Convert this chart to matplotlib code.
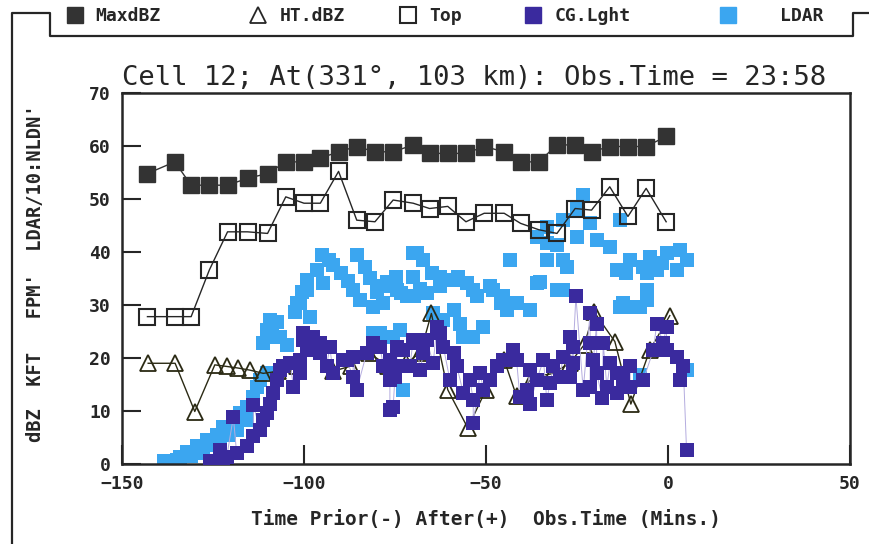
import matplotlib.pyplot as plt
from matplotlib.lines import Line2D

# radar scan times (min relative to obs. time) shared by MaxdBZ and Top
scan_time = [-143, -135.5, -131, -126, -121, -115.5, -110, -105, -100, -95.5,
             -90.5, -85.5, -80.5, -75.5, -70, -65.5, -60.5, -55.5, -50.5, -45,
             -40.5, -35.5, -30.5, -25.5, -21, -16, -11, -6, -0.5]
max_dbz = [54.8, 57.0, 52.6, 52.6, 52.6, 53.9, 54.8, 57.0, 57.0, 57.7,
           58.9, 59.9, 58.9, 58.9, 60.2, 58.6, 58.6, 58.6, 59.9, 58.9,
           57.0, 57.0, 60.2, 60.2, 58.9, 59.9, 59.9, 59.9, 61.8]
top_kft = [27.8, 27.8, 27.8, 36.6, 43.8, 43.8, 43.5, 50.4, 49.2, 49.2,
           55.2, 46.0, 45.7, 49.8, 49.2, 48.2, 48.6, 45.7, 47.3, 47.3,
           45.4, 44.2, 43.5, 48.2, 47.9, 52.3, 46.7, 52.0, 45.7]

# height of max dBZ
ht_time = [-142.8, -135.4, -130, -124.5, -121.2, -118.1, -114.8, -111.2, -107, -102,
           -97, -92, -87, -82, -77, -72, -68, -65, -60.5, -55,
           -50, -45, -41.6, -37, -32, -27, -23, -20.3, -14.6, -10.2,
           -5, 0.5]
ht_dbz = [19.0, 19.0, 9.9, 18.7, 18.4, 18.1, 17.7, 17.1, 17.5, 18.5,
          22.5, 17.5, 18.5, 20.9, 18.5, 19.0, 21.0, 28.4, 14.0, 6.8,
          14.0, 19.6, 12.8, 16.5, 17.0, 19.0, 22.5, 28.7, 23.1, 11.3,
          21.5, 28.0]

# cloud-to-ground lightning
cg_time = [-125.8, -124.0, -123.0, -122.2, -121.2, -119.4, -118.5, -115.7, -113.9, -113.9,
           -112.1, -111.2, -110.2, -109.3, -108.4, -107.5, -106.6, -105.7, -103.8, -102.9,
           -101.1, -101.1, -100.2, -100.2, -99.3, -97.4, -95.6, -95.6, -93.8, -92.9,
           -92.0, -89.2, -88.3, -86.5, -86.5, -85.5, -82.8, -81.0, -79.1, -78.2,
           -76.4, -76.4, -76.4, -75.5, -75.0, -74.5, -74.5, -72.7, -70.9, -70.0,
           -69.0, -68.1, -67.2, -66.3, -64.5, -63.5, -62.6, -61.7, -59.9, -58.9,
           -58.0, -56.2, -54.4, -53.5, -53.5, -51.6, -50.7, -48.9, -47.1, -45.2,
           -42.5, -41.6, -40.7, -38.8, -37.9, -37.9, -36.1, -34.2, -33.3, -32.4,
           -31.5, -29.7, -28.8, -26.9, -26.9, -26.0, -26.0, -25.3, -23.3, -21.4,
           -21.4, -21.4, -20.5, -19.6, -19.6, -18.0, -17.8, -16.8, -15.9, -14.1,
           -14.1, -12.3, -10.4, -10.4, -6.8, -4.0, -3.1, -1.3, -0.4, -0.4,
           2.4, 3.3, 4.2, 5.1]
cg_value = [0.5, 0.4, 2.6, 0.3, 1.4, 8.9, 2.0, 3.3, 5.2, 11.1,
            6.4, 8.3, 9.6, 11.4, 13.3, 15.8, 17.7, 18.4, 19.0, 14.6,
            17.1, 19.6, 23.4, 24.7, 21.5, 24.0, 20.9, 22.8, 18.4, 22.1,
            17.1, 19.6, 19.6, 16.5, 20.2, 14.0, 20.9, 22.8, 22.1, 18.4,
            19.6, 15.8, 10.2, 10.8, 16.5, 18.4, 22.1, 21.5, 18.4, 23.4,
            22.8, 17.7, 20.9, 23.4, 19.0, 25.9, 24.7, 22.1, 15.8, 20.9,
            18.4, 13.3, 15.8, 12.1, 7.7, 17.1, 14.0, 15.8, 18.4, 19.6,
            21.5, 19.6, 12.7, 14.0, 17.7, 11.4, 15.8, 19.6, 12.1, 15.2,
            18.4, 16.5, 20.2, 16.5, 24.0, 19.0, 22.1, 31.6, 14.0, 28.4,
            22.8, 14.6, 19.6, 26.5, 17.1, 12.4, 22.8, 14.6, 19.0, 17.1,
            13.3, 15.8, 18.4, 14.6, 15.8, 21.5, 26.5, 22.8, 25.9, 21.5,
            20.2, 15.8, 18.4, 2.6]

# LDAR sources / 10
ldar_time = [-138.5, -136.8, -135.0, -134.1, -132.2, -131.0, -129.5, -127.7, -126.7, -125.0,
             -124.0, -123.1, -122.2, -120.5, -119.4, -118.5, -117.6, -115.7, -115.7, -113.9,
             -113.0, -112.1, -111.2, -110.2, -110.2, -109.3, -108.9, -107.5, -107.5, -106.6,
             -104.8, -102.5, -102.0, -101.1, -100.6, -99.3, -99.3, -98.4, -96.5, -95.1,
             -94.7, -93.0, -91.9, -89.7, -88.0, -86.5, -85.5, -84.6, -83.2, -81.9,
             -81.0, -81.0, -80.0, -79.1, -78.2, -78.2, -77.3, -75.5, -74.6, -74.5,
             -73.6, -73.4, -72.7, -71.8, -70.0, -70.0, -69.9, -69.0, -68.0, -67.2,
             -66.3, -64.9, -64.5, -62.6, -62.5, -61.7, -58.9, -58.9, -57.8, -57.1,
             -56.2, -55.3, -53.5, -53.5, -52.6, -50.7, -48.9, -48.0, -45.8, -45.2,
             -44.3, -43.4, -41.6, -37.9, -36.1, -36.1, -35.2, -33.3, -33.3, -33.3,
             -30.6, -30.6, -28.8, -28.8, -28.8, -27.8, -25.1, -25.1, -23.3, -21.4,
             -19.6, -15.9, -14.1, -13.2, -13.2, -12.3, -11.4, -10.4, -10.4, -7.7,
             -7.7, -6.8, -5.9, -5.9, -5.9, -4.9, -3.1, -1.6, -0.4, 2.4,
             3.3, 5.1, 5.1]
ldar_value = [0.5, 0.4, 0.8, 1.4, 2.3, 1.5, 3.3, 2.0, 4.5, 3.5,
              5.5, 3.9, 7.0, 5.5, 8.3, 6.4, 9.6, 10.8, 8.3, 12.7,
              14.6, 15.8, 22.8, 17.1, 25.3, 27.2, 24.7, 26.8, 24.0, 24.0,
              22.5, 28.7, 30.3, 30.3, 32.5, 32.8, 34.7, 27.8, 36.6, 39.4,
              34.1, 38.5, 37.5, 36.0, 34.5, 32.8, 39.4, 30.9, 37.2, 35.0,
              24.7, 29.7, 32.5, 24.7, 30.3, 33.5, 34.4, 24.0, 35.3, 32.8,
              25.3, 32.2, 14.0, 31.6, 39.8, 35.3, 31.6, 39.8, 33.0, 38.5,
              32.2, 36.0, 28.4, 33.5, 35.3, 27.2, 34.7, 29.1, 35.3, 26.5,
              24.0, 34.1, 32.8, 24.0, 31.6, 25.9, 33.5, 32.8, 30.3, 31.6,
              29.1, 38.5, 30.3, 29.1, 34.1, 42.9, 34.4, 38.5, 41.6, 44.8,
              41.3, 32.8, 46.0, 38.5, 32.8, 37.2, 48.2, 42.9, 50.8, 45.4,
              42.3, 41.0, 36.6, 46.0, 29.7, 30.3, 36.0, 38.5, 29.7, 29.7,
              16.8, 37.2, 36.0, 30.9, 32.8, 39.1, 36.6, 38.0, 39.8, 36.6,
              40.4, 17.7, 38.5]

x_ticks = [-150, -100, -50, 0, 50]
y_ticks = [0, 10, 20, 30, 40, 50, 60, 70]

ink = '#262626'
cg_color = '#3a2a9e'
ldar_color = '#3ba6f0'

plt.rcParams['font.family'] = 'DejaVu Sans Mono'

fig = plt.figure(figsize=(8.7, 5.44), dpi=100)
ax = fig.add_axes([0.1402, 0.1471, 0.8368, 0.682])

ax.plot(ldar_time, ldar_value, 's', color=ldar_color, ms=10.5, mew=0, zorder=2)
ax.plot(ht_time, ht_dbz, '-', color='#2b2a14', lw=1, marker='^', mfc='none',
        mec='#2b2a14', ms=11, mew=1.3, zorder=3)
ax.plot(cg_time, cg_value, '-', color='#b4acdf', lw=0.7, zorder=3.5)
ax.plot(cg_time, cg_value, 's', color=cg_color, ms=10.5, mew=0, zorder=4)
ax.plot(scan_time, top_kft, '-', color=ink, lw=1, marker='s', mfc='none',
        mec=ink, ms=11, mew=1.5, zorder=5)
ax.plot(scan_time, max_dbz, '-', color='#333333', lw=1, marker='s', mfc='#333333',
        mec='#333333', ms=11, zorder=6)

ax.set_xlim(-150, 50)
ax.set_ylim(0, 70)
ax.set_xticks(x_ticks)
ax.set_yticks(y_ticks)
ax.tick_params(direction='in', length=14, width=1.5, pad=8, labelsize=13, colors=ink)
for lab in ax.get_xticklabels() + ax.get_yticklabels():
    lab.set_fontweight('bold')
for s in ax.spines.values():
    s.set_linewidth(1.8)
    s.set_color(ink)

ax.set_title('Cell 12; At(331°, 103 km): Obs.Time = 23:58', loc='left',
             fontsize=19.6, pad=6, color=ink)
ax.set_xlabel('Time Prior(-) After(+)  Obs.Time (Mins.)', fontsize=14,
              fontweight='bold', labelpad=12, color=ink)
fig.text(0.041, 0.498, "dBZ  KFT   FPM'  LDAR/10:NLDN'", rotation=90,
         ha='center', va='center', fontsize=13.5, fontweight='bold', color=ink)

# legend strip at the top
handles = [
    Line2D([], [], ls='none', marker='s', ms=11, color='#333333'),
    Line2D([], [], ls='none', marker='^', ms=12, mfc='none', mec=ink, mew=1.3),
    Line2D([], [], ls='none', marker='s', ms=11, mfc='none', mec=ink, mew=1.5),
    Line2D([], [], ls='none', marker='s', ms=11, color=cg_color),
    Line2D([], [], ls='none', marker='s', ms=11, color=ldar_color),
]
labels = ['MaxdBZ', 'HT.dBZ', 'Top', 'CG.Lght', 'LDAR']
marker_px = [75, 258, 408, 533, 728]
text_pads = [0.6, 0.7, 0.7, 0.7, 2.4]
for h, lab, mx, tp in zip(handles, labels, marker_px, text_pads):
    fig.legend([h], [lab], loc='center left', bbox_to_anchor=((mx - 9) / 870, 1 - 16 / 544),
               frameon=False, handlelength=1, handletextpad=tp,
               borderpad=0, borderaxespad=0, labelcolor=ink,
               prop={'size': 13, 'weight': 'bold'})

# frame lines around the page / legend strip
def px_line(xs, ys):
    fig.add_artist(Line2D([x / 870 for x in xs], [1 - y / 544 for y in ys],
                          transform=fig.transFigure, color=ink, lw=1.6))

px_line([12, 12, 50, 50, 853, 853, 870], [544, 13, 13, 36, 36, 13, 13])

fig.savefig('out.png', dpi=100)
